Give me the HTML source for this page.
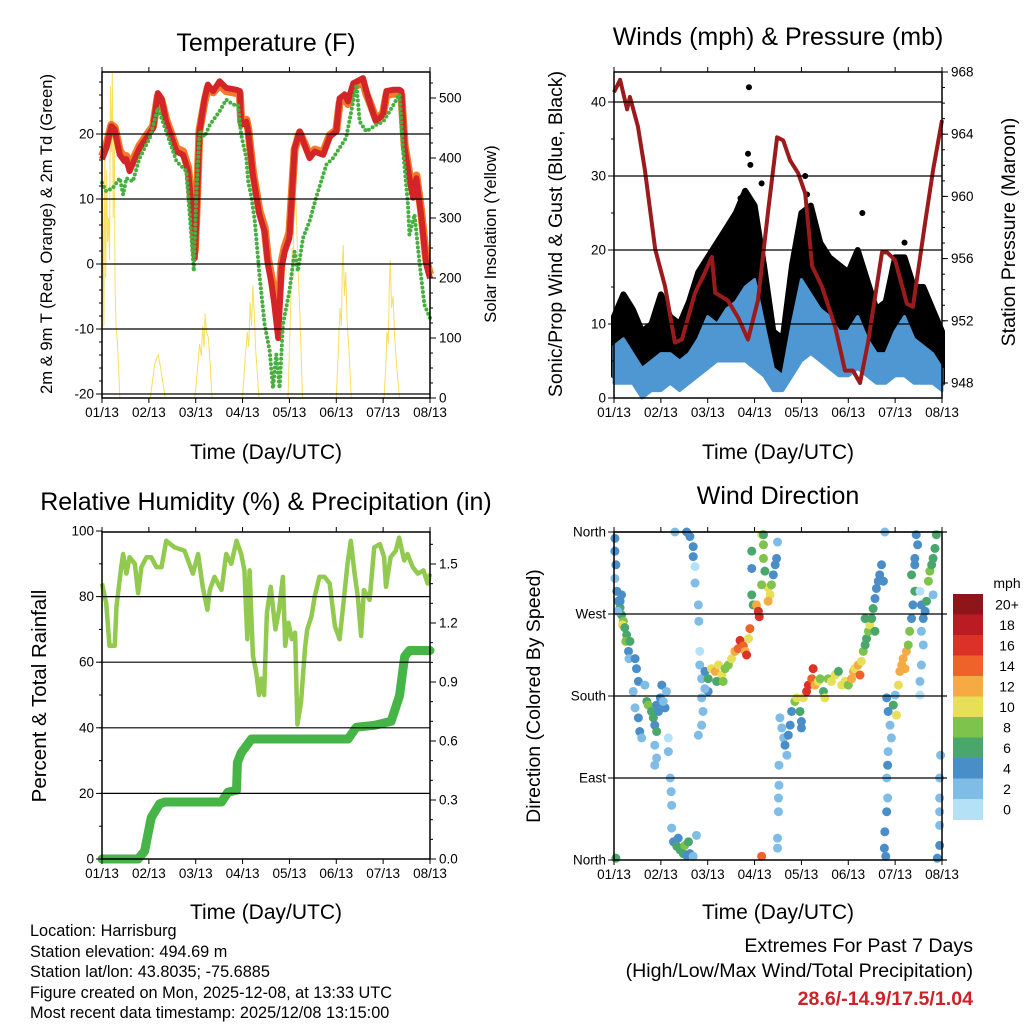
<!DOCTYPE html>
<html><head><meta charset="utf-8">
<style>
html,body{margin:0;padding:0;background:#fff;}
svg{display:block;font-family:"Liberation Sans",Arial,sans-serif;}
</style></head>
<body>
<svg id="chart" width="1024" height="1024" viewBox="0 0 1024 1024" xmlns="http://www.w3.org/2000/svg">
<rect x="0" y="0" width="1024" height="1024" fill="#fff"/>
<!-- titles -->
<text x="266" y="51" font-size="25" text-anchor="middle">Temperature (F)</text>
<text x="778" y="45" font-size="25" text-anchor="middle">Winds (mph) &amp; Pressure (mb)</text>
<text x="266" y="510" font-size="25" text-anchor="middle">Relative Humidity (%) &amp; Precipitation (in)</text>
<text x="778" y="504" font-size="25" text-anchor="middle">Wind Direction</text>
<!-- axis titles -->
<text transform="translate(52,234) rotate(-90)" font-size="16.6" text-anchor="middle">2m &amp; 9m T (Red, Orange) &amp; 2m Td (Green)</text>
<text transform="translate(496,234) rotate(-90)" font-size="16.6" text-anchor="middle">Solar Insolation (Yellow)</text>
<text transform="translate(562,234) rotate(-90)" font-size="19.5" text-anchor="middle">Sonic/Prop Wind &amp; Gust (Blue, Black)</text>
<text transform="translate(1015,232) rotate(-90)" font-size="19.5" text-anchor="middle">Station Pressure (Maroon)</text>
<text transform="translate(46,696) rotate(-90)" font-size="20.5" text-anchor="middle">Percent &amp; Total Rainfall</text>
<text transform="translate(540,696) rotate(-90)" font-size="19.5" text-anchor="middle">Direction (Colored By Speed)</text>
<text x="266" y="459" font-size="21" text-anchor="middle">Time (Day/UTC)</text>
<text x="778" y="459" font-size="21" text-anchor="middle">Time (Day/UTC)</text>
<text x="266" y="919" font-size="21" text-anchor="middle">Time (Day/UTC)</text>
<text x="778" y="919" font-size="21" text-anchor="middle">Time (Day/UTC)</text>
<!-- footer -->
<g font-size="16.3">
<text x="30" y="936">Location: Harrisburg</text>
<text x="30" y="957">Station elevation: 494.69 m</text>
<text x="30" y="977">Station lat/lon: 43.8035; -75.6885</text>
<text x="30" y="998">Figure created on Mon, 2025-12-08, at 13:33 UTC</text>
<text x="30" y="1018">Most recent data timestamp: 2025/12/08 13:15:00</text>
</g>
<g font-size="19.6" text-anchor="end">
<text x="973" y="952">Extremes For Past 7 Days</text>
<text x="973" y="977">(High/Low/Max Wind/Total Precipitation)</text>
<text x="973" y="1005" fill="#cc2229" font-weight="bold">28.6/-14.9/17.5/1.04</text>
</g>
<g id="layers"></g>
</svg>
<script>
// ---------- shared ----------
const dayLabels = ["01/13","02/13","03/13","04/13","05/13","06/13","07/13","08/13"];
// Temperature (F)
const tempDays = [0,0.09,0.2,0.27,0.38,0.48,0.52,0.59,0.66,0.8,0.95,1.09,1.19,1.27,1.37,1.59,1.73,1.84,1.94,1.98,2.01,2.08,2.19,2.26,2.37,2.51,2.65,2.87,2.94,2.97,3.08,3.12,3.22,3.36,3.47,3.54,3.61,3.68,3.76,3.83,3.9,4.0,4.11,4.22,4.32,4.43,4.54,4.72,4.86,5.0,5.07,5.18,5.25,5.36,5.57,5.64,5.75,5.85,6.0,6.07,6.21,6.35,6.39,6.46,6.56,6.64,6.71,6.81,6.92,7.0];
const temp2m = [16.1,17.8,21.2,20.7,16.8,15.8,16.1,14.3,15.5,17.8,19.4,20.9,26.3,25.5,21.9,17.3,16.8,14.3,6.6,0.9,6.1,20.4,25.5,27.6,26.6,28.1,27.1,26.8,26.6,21.4,21.9,20.4,13.7,7.6,5.0,-0.1,-2.7,-6.3,-11.4,-0.6,1.9,4.0,17.8,20.4,18.4,16.3,17.3,16.8,19.6,20.4,25.5,26.1,25.0,27.8,28.6,26.6,24.0,21.9,23.0,26.6,26.8,26.8,26.6,17.8,13.2,10.2,13.2,7.6,-0.1,-2.2];
const temp9m = [16.6,18.2,21.4,21.0,17.4,16.4,16.6,14.9,16.0,18.2,19.8,21.2,25.8,25.2,22.2,17.8,17.3,14.8,7.4,2.0,6.8,20.6,25.0,27.2,26.4,27.6,26.6,26.3,26.2,21.8,22.2,20.8,14.2,8.2,5.6,0.8,-1.8,-5.0,-7.5,0.2,2.6,4.8,17.6,20.2,18.6,16.7,17.6,17.2,19.8,20.6,24.8,25.6,24.6,27.2,28.0,26.2,24.2,22.2,23.2,26.0,26.2,26.2,26.0,18.2,13.8,10.8,13.6,8.2,0.6,-1.6];
const tdDays = [0,0.09,0.23,0.38,0.45,0.52,0.66,0.8,1.02,1.19,1.37,1.59,1.8,1.91,1.96,2.01,2.08,2.19,2.3,2.51,2.65,2.8,2.9,2.97,3.08,3.12,3.19,3.26,3.36,3.47,3.58,3.65,3.72,3.79,3.86,4.0,4.11,4.18,4.29,4.43,4.57,4.79,4.93,5.21,5.36,5.43,5.5,5.64,5.85,6.0,6.14,6.35,6.42,6.53,6.56,6.67,6.78,6.88,7.0];
const dewpoint = [12.5,11.2,11.7,13.2,10.7,13.2,12.7,16.3,19.4,24.0,20.4,15.8,14.3,4.0,-1.1,10.2,20.4,19.6,21.4,23.5,25.3,24.5,24.5,19.9,16.3,12.7,10.2,6.6,-1.6,-9.3,-13.4,-19.1,-13.9,-19.1,-9.3,-4.2,1.9,-1.1,4.0,6.6,10.2,15.3,16.3,19.4,25.0,27.6,21.9,20.4,21.4,21.9,23.5,26.1,17.8,9.1,4.5,7.6,-0.1,-6.3,-8.3];
const solarDays = [0,0.02,0.04,0.06,0.08,0.1,0.12,0.14,0.16,0.18,0.2,0.22,0.24,0.26,0.28,0.3,0.33,0.36,0.38,
 1.03,1.08,1.12,1.16,1.2,1.24,1.28,1.35,
 1.98,2.04,2.08,2.12,2.15,2.18,2.2,2.23,2.27,2.31,2.35,
 3.0,3.05,3.1,3.13,3.16,3.19,3.22,3.25,3.28,3.35,
 3.97,4.0,4.03,4.06,4.08,4.1,4.12,4.15,4.18,4.22,4.28,
 5.0,5.05,5.08,5.11,5.13,5.15,5.17,5.2,5.23,5.27,5.32,
 6.02,6.06,6.08,6.11,6.13,6.15,6.18,6.21,6.24,6.28,6.35,7.0];
const solar = [80,330,120,420,200,380,260,300,230,520,410,544,300,460,180,120,90,40,0,
 0,30,55,65,72,55,35,0,
 0,50,90,70,120,85,141,110,100,55,0,
 0,60,110,85,160,120,188,140,80,0,
 0,80,160,250,200,443,360,300,220,150,0,
 0,90,150,120,230,255,170,210,130,80,0,
 0,60,110,90,180,230,150,170,110,60,0,0];
// Winds (mph) & pressure (mb)
const windDays = [0,0.2,0.4,0.6,0.8,1.0,1.2,1.4,1.6,1.8,2.0,2.2,2.4,2.6,2.8,3.0,3.2,3.4,3.6,3.8,4.0,4.2,4.4,4.6,4.8,5.0,5.2,5.4,5.6,5.8,6.0,6.2,6.4,6.6,6.8,7.0];
const windLo = [2,2,2,0,1,1,2,1,2,3,4,5,5,5,5,4,3,1,1,3,5,6,5,4,3,3,4,3,2,2,3,3,2,2,2,1];
const windHi = [7,8,6,4,5,6,6,5,6,8,11,10,12,13,15,16,10,4,3,10,16,14,12,11,9,9,11,8,6,6,9,11,8,7,6,4];
const gustLo = [3,4,3,2,2,3,3,2,3,5,7,8,8,8,9,8,5,2,2,5,9,10,8,7,6,6,7,6,4,4,6,7,5,4,4,2];
const gustHi = [11,14,12,9,10,14,11,10,13,17,19,21,23,25,28,26,18,9,8,18,25,26,21,19,18,17,20,16,12,13,19,19,15,15,12,9];
const gustOutDays = [2.88,2.86,2.91,2.7,3.15,4.08,4.12,5.3,6.2];
const gustOut = [42,33,31.5,27,29,30,27.5,25,21];
const presDays = [0,0.13,0.28,0.34,0.51,0.66,0.88,1.09,1.3,1.45,1.73,1.94,2.09,2.16,2.43,2.65,2.86,3.07,3.29,3.48,3.61,3.76,3.93,4.08,4.23,4.44,4.72,4.93,5.1,5.25,5.42,5.72,5.83,6.0,6.25,6.38,6.64,6.81,7.0];
const pressure = [966.7,967.5,965.6,966.4,964.5,961.7,956.6,954.2,950.6,950.8,953.8,955.1,956.1,953.8,953.3,952.2,950.8,953.3,959.1,963.8,963.6,962.3,961.5,960.2,955.5,954.2,951.6,948.8,948.8,948.0,950.6,956.4,956.4,955.9,953.1,952.9,958.3,961.7,964.9];
// RH (%) & precipitation (in)
const rhDays = [0,0.09,0.16,0.27,0.31,0.41,0.45,0.52,0.59,0.7,0.77,0.84,0.95,1.05,1.16,1.27,1.37,1.55,1.76,1.94,2.05,2.15,2.25,2.3,2.4,2.55,2.65,2.76,2.87,2.97,3.04,3.1,3.15,3.22,3.29,3.35,3.4,3.46,3.52,3.6,3.7,3.78,3.86,3.91,3.98,4.05,4.12,4.17,4.25,4.33,4.38,4.47,4.54,4.64,4.75,4.86,4.97,5.07,5.16,5.24,5.31,5.39,5.46,5.53,5.59,5.71,5.81,5.93,6.02,6.06,6.16,6.27,6.34,6.45,6.52,6.63,6.74,6.86,6.95,7.0];
const rh = [84,78,65,65,77,89,93,87,92,90,81,89,92,92,89,89,97,95,94,87,93,83,76,82,86,82,93,90,97,93,88,67,88,62,57,50,55,50,75,83,70,76,86,65,72,67,69,41,48,64,70,74,80,86,86,84,71,67,79,90,97,87,80,68,82,79,95,96,92,83,92,94,98,91,93,89,87,88,84,87];
const precipDays = [0,0.77,0.91,1.05,1.23,1.34,2.55,2.69,2.87,2.89,2.97,3.19,5.25,5.43,5.82,6.17,6.35,6.46,6.56,7.0];
const precip = [0,0,0.04,0.21,0.28,0.29,0.29,0.34,0.35,0.49,0.54,0.61,0.61,0.67,0.68,0.70,0.83,1.03,1.06,1.06];
// Wind direction (deg) colored by speed (mph)
const dirDays = [0.02,0.02,0.04,0.02,0.06,0.09,0.13,0.16,0.2,0.18,0.23,0.27,0.25,0.31,0.32,0.16,0.13,0.08,0.34,
 0.45,0.48,0.52,0.41,0.45,0.52,0.55,0.59,0.66,0.7,0.73,0.8,0.84,0.87,0.91,0.95,0.91,0.99,1.02,1.09,1.05,0.87,0.91,0.87,1.12,1.16,1.16,
 1.2,1.22,1.23,1.23,1.27,1.34,1.41,1.48,1.55,1.62,1.69,1.37,1.51,1.59,1.76,
 1.3,1.55,1.62,1.69,1.69,1.73,1.73,
 1.8,1.81,1.83,1.83,1.87,1.87,1.9,1.87,1.8,
 1.94,2.01,2.08,2.16,2.23,2.3,2.37,2.44,2.51,2.58,2.65,2.69,2.76,2.8,2.83,2.87,2.9,2.01,1.94,2.19,2.33,
 2.94,2.94,2.94,2.97,3.04,3.08,3.1,3.15,3.19,3.19,3.22,3.29,3.33,3.36,3.4,3.44,3.47,3.29,3.15,3.19,3.49,
 3.52,3.52,3.51,3.51,3.49,3.49,3.15,
 3.54,3.58,3.62,3.65,3.69,3.72,3.76,3.79,3.86,3.9,3.97,4.0,4.0,4.04,4.11,4.15,4.22,4.25,4.29,4.36,4.4,4.47,4.5,4.57,4.64,4.72,4.79,4.86,4.93,5.0,5.07,5.11,5.14,5.21,5.25,5.28,5.32,5.36,5.39,5.43,5.46,5.5,5.53,5.57,5.6,5.64,5.67,5.71,5.75,5.57,5.36,
 5.78,5.82,5.85,5.89,5.92,5.85,5.84,5.82,5.84,5.82,5.78,5.77,5.8,5.96,6.0,6.03,6.07,6.1,6.14,6.17,6.21,6.24,6.28,6.31,6.35,6.38,6.42,6.35,6.42,6.48,6.45,6.42,
 6.53,6.56,6.6,6.56,6.6,6.56,6.53,6.53,6.64,6.67,6.71,6.74,6.78,6.81,6.85,6.88,6.81,6.9,6.95,6.95,6.95,6.95,6.97,6.95,0.04];
const dirDegs = [353,339,324,309,295,284,277,269,262,258,255,247,240,229,221,291,284,273,240,
 221,210,196,185,167,156,141,134,192,174,170,163,156,148,141,163,170,178,192,167,174,126,112,104,185,134,119,
 90,75,60,35,20,15,11,7,5,7,4,24,16,20,27,
 361,361,355,344,333,322,304,
 280,262,229,214,199,178,163,148,137,
 207,199,210,207,214,203,210,214,221,229,232,241,235,229,225,243,254,185,188,196,196,
 339,320,291,280,280,273,267,357,346,331,317,299,291,302,313,324,331,284,302,357,349,
 104,82,68,53,24,13,4,
 156,145,134,126,115,137,148,163,174,178,163,152,145,178,185,192,199,210,192,196,199,185,178,199,196,203,207,192,196,192,199,207,210,214,203,218,229,236,243,251,258,265,276,287,298,306,313,324,306,251,265,
 360,178,163,148,134,119,104,90,68,53,31,13,4,170,181,159,192,207,214,221,210,229,236,251,265,280,295,313,331,346,357,324,
 295,280,265,251,236,214,196,181,273,284,306,317,324,331,342,357,291,2,16,68,90,53,115,38,2];
const dirSpeeds = [4,4,4,3,4,5,6,7,9,11,7,7,8,5,3,4,4,3,6,
 4,4,5,3,3,4,4,3,2,7,8,6,6,5,6,5,4,4,4,4,3,3,3,2,3,1,2,
 2,2,2,3,5,6,7,6,5,4,3,5,8,6,2,
 2,4,4,4,4,1,2,
 3,2,1,3,3,3,2,2,2,
 4,6,10,12,11,10,8,9,11,12,14,16,14,13,16,10,14,4,3,6,9,
 6,5,6,6,12,17,17,10,9,8,6,11,10,9,5,4,4,12,8,7,2,
 2,2,2,2,3,2,14,
 3,2,2,4,3,4,5,5,8,10,7,5,4,10,16,17,15,17,12,10,8,6,10,9,11,10,7,10,11,8,13,12,10,13,14,10,8,6,7,9,11,6,7,5,4,4,4,4,4,6,6,
 2,4,4,3,2,2,4,2,3,4,4,4,4,6,3,10,11,12,13,12,13,12,8,8,4,4,6,6,4,4,5,4,
 1,4,5,3,2,2,2,1,5,6,8,8,7,6,6,7,3,4,4,2,2,2,3,2,6];
const speedLabels = ["20+","18","16","14","12","10","8","6","4","2","0"];
const speedColors = ["#8e1519","#bb1b22","#dc3127","#ef6229","#f6aa44","#e6df57","#7ec34b","#4aa76c","#4a8ec8","#7fbce6","#b5e1f7"];

const NS="http://www.w3.org/2000/svg";
const layers=document.getElementById('layers');
function mk(tag,attrs,parent){const e=document.createElementNS(NS,tag);for(const k in attrs)e.setAttribute(k,attrs[k]);(parent||layers).appendChild(e);return e;}

function panel(L,R,T,B){return {L,R,T,B,x:d=>L+d/7*(R-L)};}
function lin(v0,v1,p0,p1){return v=>p0+(v-v0)/(v1-v0)*(p1-p0);}

const P1=panel(102,430,72,398), P2=panel(614,942,72,398), P3=panel(102,430,532,859), P4=panel(614,942,532,860);
const yTemp=lin(-20,20,394,134), ySolar=lin(0,500,398,98);
const yWind=lin(0,40,398,102), yPres=lin(948,968,383,72);
const yRH=lin(0,100,859,531), yPrecip=lin(0,1.5,859,564);
const yDir=lin(0,360,860,532);

function polyPts(xs,ys,fx,fy){return xs.map((d,i)=>fx(d).toFixed(1)+','+fy(ys[i]).toFixed(1)).join(' ');}
function bandPts(xs,hi,lo,fx,fy){
  const a=xs.map((d,i)=>fx(d).toFixed(1)+','+fy(hi[i]).toFixed(1));
  const b=xs.map((d,i)=>fx(d).toFixed(1)+','+fy(lo[i]).toFixed(1)).reverse();
  return a.concat(b).join(' ');
}

function frameAxes(P,name,leftTicks,leftFy,rightTicks,rightFy,gridTicks,leftMinor,rightMinor){
  const g=mk('g',{});
  
  
  gridTicks.forEach(v=>{const y=leftFy(v);const l=mk('line',{x1:P.L,x2:P.R,y1:y,y2:y,stroke:'#000','stroke-width':1.2},g);
    
    });
  dayLabels.forEach((lab,i)=>{const x=P.x(i);
    mk('line',{x1:x,x2:x,y1:P.B,y2:P.B+5,stroke:'#000','stroke-width':1},g);
    mk('line',{x1:x,x2:x,y1:P.T,y2:P.T-5,stroke:'#000','stroke-width':1},g);
    const t=mk('text',{x:x,y:P.B+19,'font-size':13.5,'text-anchor':'middle'},g);t.textContent=lab;
    
    });
  (leftMinor||[]).forEach(v=>{const y=leftFy(v);mk('line',{x1:P.L-3,x2:P.L,y1:y,y2:y,stroke:'#000','stroke-width':1},g);});
  leftTicks.forEach(o=>{const y=leftFy(o.v);
    mk('line',{x1:P.L-6,x2:P.L,y1:y,y2:y,stroke:'#000','stroke-width':1},g);
    const t=mk('text',{x:P.L-8,y:y+4.5,'font-size':13.5,'text-anchor':'end'},g);t.textContent=o.l;
    
    });
  if(rightFy){
    (rightMinor||[]).forEach(v=>{const y=rightFy(v);mk('line',{x1:P.R,x2:P.R+3,y1:y,y2:y,stroke:'#000','stroke-width':1},g);});
    rightTicks.forEach(o=>{const y=rightFy(o.v);
      mk('line',{x1:P.R,x2:P.R+6,y1:y,y2:y,stroke:'#000','stroke-width':1},g);
      const t=mk('text',{x:P.R+9,y:y+4.5,'font-size':13.5,'text-anchor':'start'},g);t.textContent=o.l;
      
      });
  }
  const f=mk('rect',{x:P.L,y:P.T,width:P.R-P.L,height:P.B-P.T,fill:'none',stroke:'#000','stroke-width':1.5});
  
  
}
function range(a,b,s){const r=[];for(let v=a;v<=b+1e-9;v+=s)r.push(+v.toFixed(3));return r;}

// ---------- Panel 1: temperature ----------
{
  const g=mk('g',{});
  
  
  const s=mk('polyline',{points:polyPts(solarDays,solar,P1.x,ySolar),fill:'none',stroke:'#f7dc4a','stroke-width':1,opacity:0.9},g);
  
  
  const o=mk('polyline',{points:polyPts(tempDays,temp9m,P1.x,yTemp),fill:'none',stroke:'#f27b2a','stroke-width':8,'stroke-linejoin':'round'},g);
  
  
  const r=mk('polyline',{points:polyPts(tempDays,temp2m,P1.x,yTemp),fill:'none',stroke:'#d32527','stroke-width':6,'stroke-linejoin':'round'},g);
  
  
  const d=mk('polyline',{points:polyPts(tdDays,dewpoint,P1.x,yTemp),fill:'none',stroke:'#45b03f','stroke-width':4,'stroke-linecap':'round','stroke-dasharray':'0 4.5'},g);
  
  
  frameAxes(P1,'temperature',[-20,-10,0,10,20].map(v=>({v,l:String(v)})),yTemp,
    [0,100,200,300,400,500].map(v=>({v,l:String(v)})),ySolar,[-20,-10,0,10,20],range(-20,28,2),range(0,525,25));
}
// ---------- Panel 2: winds ----------
{
  const g=mk('g',{});
  
  
  const gb=mk('polygon',{points:bandPts(windDays,gustHi,gustLo,P2.x,yWind),fill:'#000',stroke:'#000','stroke-width':6,'stroke-linejoin':'round'},g);
  
  
  gustOutDays.forEach((d,i)=>{
    const c=mk('circle',{cx:P2.x(d),cy:yWind(gustOut[i]),r:3,fill:'#000'},g);
    
    
  });
  const wb=mk('polygon',{points:bandPts(windDays,windHi,windLo,P2.x,yWind),fill:'#4f97d2',stroke:'#4f97d2','stroke-width':3,'stroke-linejoin':'round'},g);
  
  
  const p=mk('polyline',{points:polyPts(presDays,pressure,P2.x,yPres),fill:'none',stroke:'#9b1a1c','stroke-width':4,'stroke-linejoin':'round'},g);
  
  
  frameAxes(P2,'winds',[0,10,20,30,40].map(v=>({v,l:String(v)})),yWind,
    [948,952,956,960,964,968].map(v=>({v,l:String(v)})),yPres,[10,20,30,40],range(0,44,5),range(948,968,1));
}
// ---------- Panel 3: RH & precip ----------
{
  const g=mk('g',{});
  
  
  const r=mk('polyline',{points:polyPts(rhDays,rh,P3.x,yRH),fill:'none',stroke:'#92c94f','stroke-width':4.5,'stroke-linejoin':'round'},g);
  
  
  const p=mk('polyline',{points:polyPts(precipDays,precip,P3.x,yPrecip),fill:'none',stroke:'#46b447','stroke-width':9,'stroke-linejoin':'round','stroke-linecap':'round'},g);
  
  
  frameAxes(P3,'humidity',[0,20,40,60,80,100].map(v=>({v,l:String(v)})),yRH,
    [0,0.3,0.6,0.9,1.2,1.5].map(v=>({v,l:v.toFixed(1)})),yPrecip,[20,40,60,80],range(0,100,10),range(0,1.65,0.1));
}
// ---------- Panel 4: wind direction ----------
{
  const g=mk('g',{});
  
  
  function colorFor(s){let k=Math.min(10,Math.floor(s/2));return speedColors[10-k];}
  dirDays.forEach((d,i)=>{
    const c=mk('circle',{cx:P4.x(d),cy:yDir(Math.min(360,dirDegs[i])),r:4.5,fill:colorFor(dirSpeeds[i])},g);
    
    
  });
  frameAxes(P4,'wind-direction',[{v:0,l:'North'},{v:90,l:'East'},{v:180,l:'South'},{v:270,l:'West'},{v:360,l:'North'}],yDir,
    null,null,[90,180,270,360]);
  [0,90,180,270,360].forEach(v=>{mk('line',{x1:P4.R,x2:P4.R+5,y1:yDir(v),y2:yDir(v),stroke:'#000','stroke-width':1.2},g);});
  const cb=mk('g',{});
  
  
  const top=594,h=20.5;
  const u=mk('text',{x:1007,y:588,'font-size':14,'text-anchor':'middle'},cb);u.textContent='mph';
  speedLabels.forEach((lab,i)=>{
    const r=mk('rect',{x:953,y:top+i*h,width:30,height:h+0.5,fill:speedColors[i]},cb);
    
    
    const t=mk('text',{x:1007,y:top+i*h+h/2+5,'font-size':14,'text-anchor':'middle'},cb);t.textContent=lab;
    
    
  });
}
</script>
</body></html>
